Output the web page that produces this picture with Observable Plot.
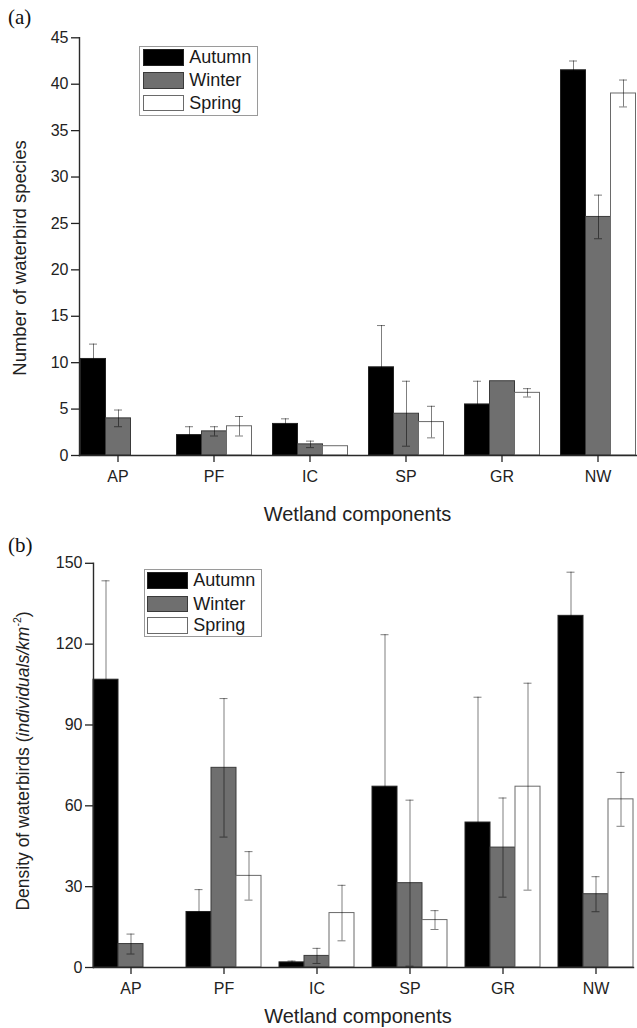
<!DOCTYPE html>
<html>
<head>
<meta charset="utf-8">
<script src="https://cdn.jsdelivr.net/npm/d3@7"></script>
<script src="https://cdn.jsdelivr.net/npm/@observablehq/plot@0.6"></script>
<style>
  html, body { margin: 0; padding: 0; background: #fff; }
  #wrap { position: relative; width: 637px; height: 1028px; overflow: hidden;
          font-family: "Liberation Sans", Arial, sans-serif; color: #222; }
  #wrap svg { max-width: none !important; }
  .panel { position: absolute; left: 0; }
  .lbl { position: absolute; white-space: nowrap; line-height: 1; }
  .tag { position: absolute; font-family: "Liberation Serif", "Times New Roman", serif; font-size: 21px; line-height: 1; color: #111; }
  .rot { transform: translate(-50%, -50%) rotate(-90deg); }
  .legend { position: absolute; border: 1px solid #9a9a9a; background: #fff; box-sizing: border-box; }
  .sw { position: absolute; box-sizing: border-box; border: 1.3px solid #444; }
  .lt { position: absolute; font-size: 18px; white-space: nowrap; color: #1a1a1a; }
  sup { font-size: 0.6em; line-height: 0; vertical-align: 0.75em; }
</style>
</head>
<body>
<div id="wrap"></div>
<script>
// ---------------- data ----------------
const categories = ["AP", "PF", "IC", "SP", "GR", "NW"];
const seasons = ["Autumn", "Winter", "Spring"];

// (a) Number of waterbird species (mean and error)
const speciesAutumn   = [10.4, 2.2, 3.4, 9.5, 5.5, 41.5];
const speciesAutumnE  = [1.6, 0.9, 0.55, 4.5, 2.5, 1.0];
const speciesWinter   = [4.0, 2.6, 1.2, 4.5, 8.0, 25.7];
const speciesWinterE  = [0.9, 0.5, 0.35, 3.5, 0, 2.35];
const speciesSpring   = [null, 3.15, 1.0, 3.6, 6.75, 39.0];
const speciesSpringE  = [null, 1.05, 0, 1.7, 0.45, 1.45];
const speciesTicks    = [0, 5, 10, 15, 20, 25, 30, 35, 40, 45];

// (b) Density of waterbirds (individuals/km^2)
const densityAutumn   = [106.8, 20.6, 1.9, 67.1, 53.8, 130.5];
const densityAutumnE  = [36.7, 8.3, 0.5, 56.4, 46.5, 16.2];
const densityWinter   = [8.7, 74.1, 4.3, 31.3, 44.5, 27.2];
const densityWinterE  = [3.7, 25.7, 2.8, 30.8, 18.4, 6.5];
const densitySpring   = [null, 34.0, 20.2, 17.6, 67.1, 62.4];
const densitySpringE  = [null, 9.0, 10.3, 3.5, 38.4, 10.0];
const densityTicks    = [0, 30, 60, 90, 120, 150];

// ---------------- styles ----------------
const seasonFill = ["#000000", "#6f6f6f", "#ffffff"];
const seasonEdge = ["#222", "#3a3a3a", "#6a6a6a"];
const FONT = '"Liberation Sans", Arial, sans-serif';
const AXIS = "#2a2a2a";

function buildRows(series) {
  const rows = [];
  categories.forEach((cat, i) => {
    series.forEach(([vals, errs], j) => {
      if (vals[i] != null) rows.push({cat, season: seasons[j], value: vals[i], err: errs[i] || 0});
    });
  });
  return rows;
}

function groupedBars({rows, ticks, yMax, width, height, mt, mb, ml, pIn, pOut}) {
  const errRows = rows.filter(d => d.err > 0);
  const errStyle = {fx: "cat", x: "season", stroke: "#000", strokeOpacity: 0.5, strokeWidth: 1};
  return Plot.plot({
    width, height,
    marginTop: mt, marginBottom: mb, marginLeft: ml, marginRight: 0,
    style: {fontFamily: FONT, fontSize: "16px", color: "#222", background: "transparent", overflow: "visible", maxWidth: "none"},
    fx: {domain: categories, paddingInner: pIn, paddingOuter: pOut, label: null},
    x: {domain: seasons, padding: 0, axis: null},
    y: {domain: [0, yMax], label: null},
    color: {domain: seasons, range: seasonFill},
    marks: [
      Plot.barY(rows, {fx: "cat", x: "season", y: "value", fill: "season",
        stroke: d => seasonEdge[seasons.indexOf(d.season)], strokeWidth: 1}),
      Plot.ruleX(errRows, {...errStyle, y1: d => d.value - d.err, y2: d => d.value + d.err}),
      Plot.tickY(errRows, {...errStyle, y: d => d.value + d.err, insetLeft: 8.5, insetRight: 8.5}),
      Plot.tickY(errRows, {...errStyle, y: d => d.value - d.err, insetLeft: 8.5, insetRight: 8.5}),
      Plot.frame({anchor: "left", facet: "super", stroke: AXIS, strokeWidth: 1.4}),
      Plot.frame({anchor: "bottom", facet: "super", stroke: AXIS, strokeWidth: 1.4}),
      Plot.axisY({ticks, tickSize: 8, tickPadding: 3, fontSize: 16, label: null, color: "#222", strokeWidth: 1.3}),
      Plot.axisFx({anchor: "bottom", tickSize: 7, tickPadding: 8, fontSize: 16, label: null, color: "#222", strokeWidth: 1.3})
    ]
  });
}

const wrap = document.getElementById("wrap");

function place(node, top) {
  node.classList.add("panel");
  node.style.top = top + "px";
  node.style.maxWidth = "none";
  wrap.appendChild(node);
}

// Panel (a)
const topPlot = groupedBars({
  rows: buildRows([[speciesAutumn, speciesAutumnE], [speciesWinter, speciesWinterE], [speciesSpring, speciesSpringE]]),
  ticks: speciesTicks, yMax: 45,
  width: 645, height: 530, mt: 37.3, mb: 75, ml: 69.5, pIn: 0.195, pOut: 0.09
});
place(topPlot, 0);

// Panel (b)
const botPlot = groupedBars({
  rows: buildRows([[densityAutumn, densityAutumnE], [densityWinter, densityWinterE], [densitySpring, densitySpringE]]),
  ticks: densityTicks, yMax: 150,
  width: 644, height: 498, mt: 32.8, mb: 61, ml: 82, pIn: 0.19, pOut: 0.10
});
place(botPlot, 530);

// ---------------- texts ----------------
function label(html, {left, top, size, rotate = false, center = false}) {
  const d = document.createElement("div");
  d.className = "lbl" + (rotate ? " rot" : "");
  d.innerHTML = html;
  d.style.fontSize = size + "px";
  d.style.left = left + "px";
  d.style.top = top + "px";
  if (center && !rotate) d.style.transform = "translate(-50%, 0)";
  wrap.appendChild(d);
  return d;
}
function tag(text, left, top) {
  const d = document.createElement("div");
  d.className = "tag";
  d.textContent = text;
  d.style.left = left + "px";
  d.style.top = top + "px";
  wrap.appendChild(d);
}

tag("(a)", 8, 7.4);
tag("(b)", 8, 535.4);

label("Number of waterbird species", {left: 19.5, top: 258, size: 18.5, rotate: true});
label("Wetland components", {left: 357.5, top: 504, size: 20, center: true});
label("Density of waterbirds (<i>individuals/km</i><sup>-2</sup>)", {left: 24, top: 761, size: 17.5, rotate: true});
label("Wetland components", {left: 358, top: 1006, size: 20, center: true});

// ---------------- legends ----------------
function legend({left, top, w, h, rowTops, swLeft, swW, swH, textLeft}) {
  const box = document.createElement("div");
  box.className = "legend";
  Object.assign(box.style, {left: left + "px", top: top + "px", width: w + "px", height: h + "px"});
  seasons.forEach((s, i) => {
    const sw = document.createElement("div");
    sw.className = "sw";
    Object.assign(sw.style, {left: swLeft + "px", top: rowTops[i] + "px", width: swW + "px", height: swH + "px",
      background: seasonFill[i], borderColor: seasonEdge[i]});
    box.appendChild(sw);
    const t = document.createElement("div");
    t.className = "lt";
    t.textContent = s;
    Object.assign(t.style, {left: textLeft + "px", top: rowTops[i] + "px", height: swH + "px", lineHeight: swH + "px"});
    box.appendChild(t);
  });
  wrap.appendChild(box);
}

legend({left: 139.3, top: 45.7, w: 119, h: 70, rowTops: [2.6, 25.6, 48.3], swLeft: 2.4, swW: 41, swH: 16.4, textLeft: 49});
legend({left: 144, top: 569.3, w: 117.7, h: 68, rowTops: [2, 25.4, 47], swLeft: 2.3, swW: 41, swH: 16.7, textLeft: 48.3});
</script>
</body>
</html>
